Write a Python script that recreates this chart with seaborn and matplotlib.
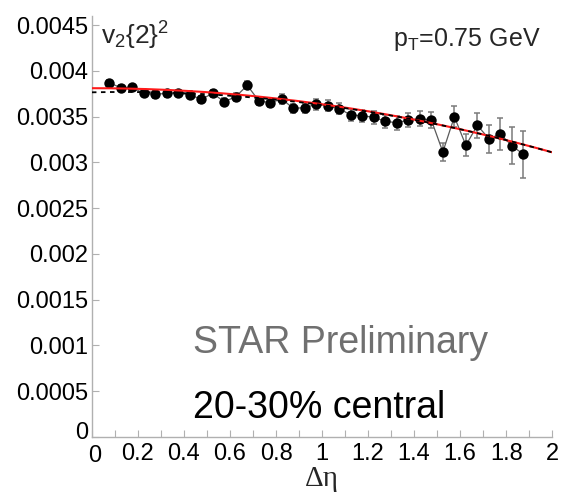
import numpy as np
import pandas as pd
import matplotlib
matplotlib.use("Agg")
import matplotlib.pyplot as plt
import seaborn as sns
from matplotlib.ticker import MultipleLocator
from matplotlib.transforms import ScaledTranslation

# Delta-eta bin centres and v2{2}^2 values (in units of 1e-3)
deta = [0.075, 0.125, 0.175, 0.225, 0.275, 0.325, 0.375, 0.425, 0.475,
        0.525, 0.575, 0.625, 0.675, 0.725, 0.775, 0.825, 0.875, 0.925,
        0.975, 1.025, 1.075, 1.125, 1.175, 1.225, 1.275, 1.325, 1.375,
        1.425, 1.475, 1.525, 1.575, 1.625, 1.675, 1.725, 1.775, 1.825, 1.875]
v2sq = [3.870, 3.815, 3.819, 3.754, 3.743, 3.754, 3.757, 3.739, 3.688,
        3.754, 3.662, 3.717, 3.841, 3.673, 3.651, 3.692, 3.590, 3.597,
        3.634, 3.619, 3.586, 3.517, 3.509, 3.492, 3.448, 3.433, 3.462,
        3.477, 3.462, 3.113, 3.498, 3.186, 3.404, 3.258, 3.309, 3.182, 3.088]
v2err = [0.030, 0.030, 0.030, 0.030, 0.035, 0.035, 0.035, 0.035, 0.040,
         0.040, 0.040, 0.045, 0.045, 0.045, 0.050, 0.050, 0.050, 0.055,
         0.060, 0.060, 0.060, 0.065, 0.065, 0.070, 0.070, 0.075, 0.075,
         0.080, 0.085, 0.100, 0.113, 0.120, 0.135, 0.153, 0.175, 0.205, 0.255]

# Fit parameters (units of 1e-3): red a - b*x^2, dashed c0 + c1*x + c2*x^2
red_fit = (3.81, 0.175)
dash_fit = (3.765, 0.052, -0.19)

y_ticks = [0, 0.0005, 0.001, 0.0015, 0.002, 0.0025, 0.003, 0.0035, 0.004, 0.0045]
y_tick_labels = ["0", "0.0005", "0.001", "0.0015", "0.002", "0.0025",
                 "0.003", "0.0035", "0.004", "0.0045"]
x_ticks = [0, 0.2, 0.4, 0.6, 0.8, 1.0, 1.2, 1.4, 1.6, 1.8, 2.0]
x_tick_labels = ["0", "0.2", "0.4", "0.6", "0.8", "1", "1.2", "1.4", "1.6", "1.8", "2"]

sns.set_theme(style="ticks")
plt.rcParams["font.family"] = ["Liberation Sans", "DejaVu Sans"]
plt.rcParams["mathtext.default"] = "regular"

df = pd.DataFrame({"deta": deta,
                   "v2": np.array(v2sq) * 1e-3,
                   "err": np.array(v2err) * 1e-3})

fig = plt.figure(figsize=(5.64, 4.96), dpi=100)
ax = fig.add_axes([0.163, 0.119, 0.816, 0.849])

# connecting line and error bars
ax.errorbar(df["deta"], df["v2"], yerr=df["err"], fmt="none",
            ecolor="#7a7a7a", elinewidth=1.1, capsize=2.4, capthick=1.1, zorder=2)
sns.lineplot(data=df, x="deta", y="v2", color="#5a5a5a", linewidth=0.9,
             ax=ax, zorder=2, legend=False)
sns.scatterplot(data=df, x="deta", y="v2", color="black", s=56,
                edgecolor="black", linewidth=0, ax=ax, zorder=3)

xf = np.linspace(0, 2.0, 200)
red_y = (red_fit[0] - red_fit[1] * xf ** 2) * 1e-3
dash_y = (dash_fit[0] + dash_fit[1] * xf + dash_fit[2] * xf ** 2) * 1e-3
ax.plot(xf, red_y, color="#ff1a1a", linewidth=1.5, zorder=4)
ax.plot(xf, dash_y, color="black", linewidth=1.3, linestyle=(0, (2.5, 2.5)), zorder=5)

ax.set_xlim(0, 2.0)
ax.set_ylim(0, 0.0046)
ax.set_xticks(x_ticks)
ax.set_xticklabels(x_tick_labels)
ax.xaxis.set_minor_locator(MultipleLocator(0.1))
ax.set_yticks(y_ticks)
ax.set_yticklabels(y_tick_labels)

for side in ("top", "right"):
    ax.spines[side].set_visible(False)
for side in ("left", "bottom"):
    ax.spines[side].set_color("#b0b0b0")
    ax.spines[side].set_linewidth(1.0)

ax.tick_params(axis="both", which="both", direction="in", color="#b0b0b0",
               width=0.8, labelsize=17, labelcolor="black")
ax.tick_params(axis="y", which="major", length=5, pad=3)
ax.tick_params(axis="x", which="both", length=5, pad=4)

# lift the y-axis "0" and drop the x-axis "0" so they sit apart at the origin
ax.get_yticklabels()[0].set_transform(
    ax.get_yticklabels()[0].get_transform() + ScaledTranslation(0, 5 / 72, fig.dpi_scale_trans))
ax.get_xticklabels()[0].set_transform(
    ax.get_xticklabels()[0].get_transform() + ScaledTranslation(2 / 72, -2 / 72, fig.dpi_scale_trans))

ax.set_ylabel("")
ax.set_xlabel("Δη", fontsize=21, family=["Liberation Serif", "DejaVu Serif"],
              labelpad=-1)

ax.text(0.02, 0.99, "v$_2${2}$^2$", transform=ax.transAxes, fontsize=19,
        ha="left", va="top")
ax.text(0.655, 0.975, "p$_T$=0.75 GeV", transform=ax.transAxes, fontsize=18,
        ha="left", va="top")
ax.text(0.22, 0.2, "STAR Preliminary", transform=ax.transAxes, fontsize=27,
        color="#707070", ha="left", va="baseline")
ax.text(0.22, 0.045, "20-30% central", transform=ax.transAxes, fontsize=27,
        color="black", ha="left", va="baseline")

fig.savefig("out.png", dpi=100)
